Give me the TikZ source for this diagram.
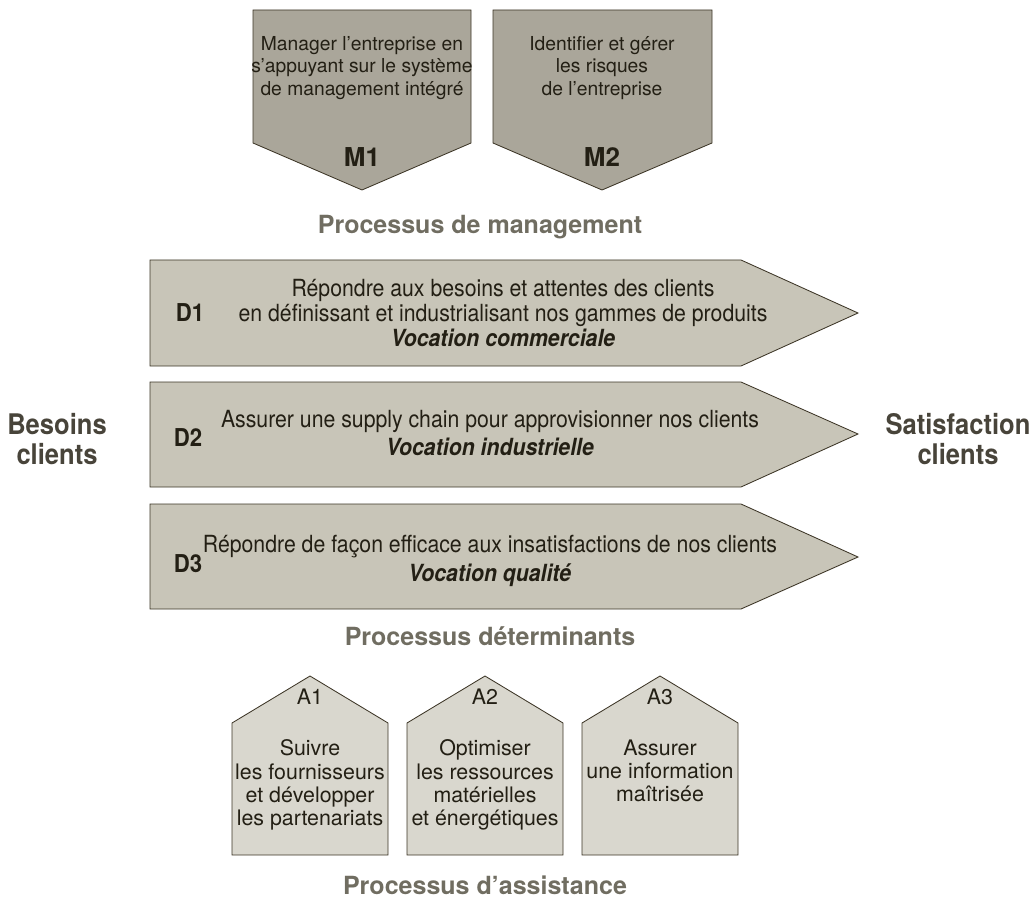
\documentclass[tikz,border=0pt]{standalone}
\usepackage{fontspec}
\setmainfont{TeX Gyre Heros}
\newfontfamily\narrowfont[FakeStretch=0.9]{TeX Gyre Heros}

\definecolor{mfill}{HTML}{AAA69A}
\definecolor{dfill}{HTML}{C8C5B8}
\definecolor{afill}{HTML}{D9D7CE}
\definecolor{edge}{HTML}{3C3526}
\definecolor{ink}{HTML}{231F14}
\definecolor{sidegray}{HTML}{48443A}
\definecolor{titlegray}{HTML}{706D61}

\begin{document}
\begin{tikzpicture}[x=0.025cm, y=-0.025cm, align=center, text=ink,
    box/.style={draw=edge, line width=0.6pt},
    mtext/.style={font=\fontsize{13.7}{16}\selectfont},
    mlabel/.style={font=\fontsize{18.5}{20}\selectfont\bfseries},
    dtext/.style={font=\narrowfont\fontsize{16.8}{18}\selectfont},
    dlabel/.style={font=\narrowfont\fontsize{17.5}{20}\selectfont\bfseries},
    atext/.style={font=\fontsize{15.2}{16.5}\selectfont},
    ptitle/.style={font=\fontsize{17.8}{20}\selectfont\bfseries, text=titlegray},
    side/.style={font=\narrowfont\fontsize{20.2}{21.3}\selectfont\bfseries, text=sidegray}]
  \useasboundingbox (0,0) rectangle (1036,905);

  % management processes
  \draw[box, fill=mfill] (253,10) -- (471,10) -- (471,143) -- (362,190) -- (253,143) -- cycle;
  \draw[box, fill=mfill] (493,10) -- (712,10) -- (712,143) -- (602,190) -- (493,143) -- cycle;
  \node[mtext] (M1t) at (362,68) {Manager l’entreprise en\\s’appuyant sur le système\\de management intégré};
  \node[mlabel] (M1) at (362,157) {M1};
  \node[mtext] (M2t) at (602,68) {Identifier et gérer\\les risques\\de l’entreprise};
  \node[mlabel] (M2) at (602,157) {M2};
  \node[ptitle] (PM) at (480,227) {Processus de management};

  % key processes
  \draw[box, fill=dfill] (150,260) -- (741,260) -- (858,313) -- (741,366) -- (150,366) -- cycle;
  \draw[box, fill=dfill] (150,382) -- (741,382) -- (858,434) -- (741,487) -- (150,487) -- cycle;
  \draw[box, fill=dfill] (150,504) -- (741,504) -- (858,557) -- (741,609) -- (150,609) -- cycle;
  \node[dlabel] (D1) at (190,313) {D1};
  \node[dtext] (D1t) at (503,313) {Répondre aux besoins et attentes des clients\\en définissant et industrialisant nos gammes de produits\\\textbf{\itshape Vocation commerciale}};
  \node[dlabel] (D2) at (188,438) {D2};
  \node[dtext] (D2t) at (490,433) {Assurer une supply chain pour approvisionner nos clients\\[1.5pt]\textbf{\itshape Vocation industrielle}};
  \node[dlabel] (D3) at (188,564) {D3};
  \node[dtext] (D3t) at (490,561) {Répondre de façon efficace aux insatisfactions de nos clients\\[3pt]\textbf{\itshape Vocation qualité}};
  \node[ptitle] (PD) at (490,636) {Processus déterminants};

  \node[side] (BC) at (57,439) {Besoins\\clients};
  \node[side] (SC) at (958,439) {Satisfaction\\clients};

  % support processes
  \draw[box, fill=afill] (232,855) -- (232,723) -- (310,676) -- (388,723) -- (388,855) -- cycle;
  \draw[box, fill=afill] (407,855) -- (407,723) -- (485,676) -- (563,723) -- (563,855) -- cycle;
  \draw[box, fill=afill] (582,855) -- (582,723) -- (660,676) -- (738,723) -- (738,855) -- cycle;
  \node[atext] (A1) at (310,697) {A1};
  \node[atext, anchor=north] (A1t) at (310,735) {Suivre\\les fournisseurs\\et développer\\les partenariats};
  \node[atext] (A2) at (485,697) {A2};
  \node[atext, anchor=north] (A2t) at (485,735) {Optimiser\\les ressources\\matérielles\\et énergétiques};
  \node[atext] (A3) at (660,697) {A3};
  \node[atext, anchor=north] (A3t) at (660,735) {Assurer\\une information\\maîtrisée};
  \node[ptitle] (PA) at (485,885) {Processus d’assistance};
\end{tikzpicture}
\end{document}
